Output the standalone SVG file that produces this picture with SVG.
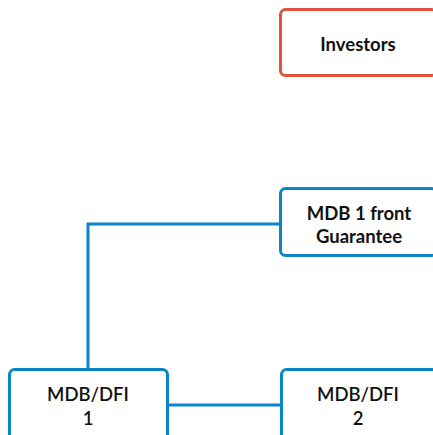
<svg xmlns="http://www.w3.org/2000/svg" width="433" height="435" viewBox="0 0 433 435">
  <style>
    .box { fill: #ffffff; stroke-width: 3; }
    .blue { stroke: #0A86C8; }
    .red { stroke: #E0523A; }
    .lbl { font-family: Lato, "Liberation Sans", sans-serif; font-size: 18.5px; fill: #111111; text-anchor: middle; }
    .b { font-weight: 700; }
    .m { font-weight: 600; }
    .link { fill: none; stroke: #0A86C8; stroke-width: 3; }
  </style>
  <rect width="433" height="435" fill="#ffffff"/>
  <g id="connectors">
    <path class="link" d="M88 369 V224 H280"/>
    <path class="link" d="M168 405 H281"/>
  </g>
  <g id="investors">
    <rect class="box red" x="280.5" y="9.5" width="156" height="66" rx="5"/>
    <text class="lbl b" x="358" y="51">Investors</text>
  </g>
  <g id="mdb1-front-guarantee">
    <rect class="box blue" x="280.5" y="188.5" width="156" height="67" rx="5"/>
    <text class="lbl b" x="359" y="220">MDB 1 front</text>
    <text class="lbl b" x="359" y="243">Guarantee</text>
  </g>
  <g id="mdb-dfi-1">
    <rect class="box blue" x="9.5" y="369.5" width="158" height="70" rx="5"/>
    <text class="lbl m" x="88" y="401">MDB/DFI</text>
    <text class="lbl m" x="88" y="425">1</text>
  </g>
  <g id="mdb-dfi-2">
    <rect class="box blue" x="281.5" y="369.5" width="156" height="70" rx="5"/>
    <text class="lbl m" x="358" y="401">MDB/DFI</text>
    <text class="lbl m" x="358" y="425">2</text>
  </g>
</svg>
